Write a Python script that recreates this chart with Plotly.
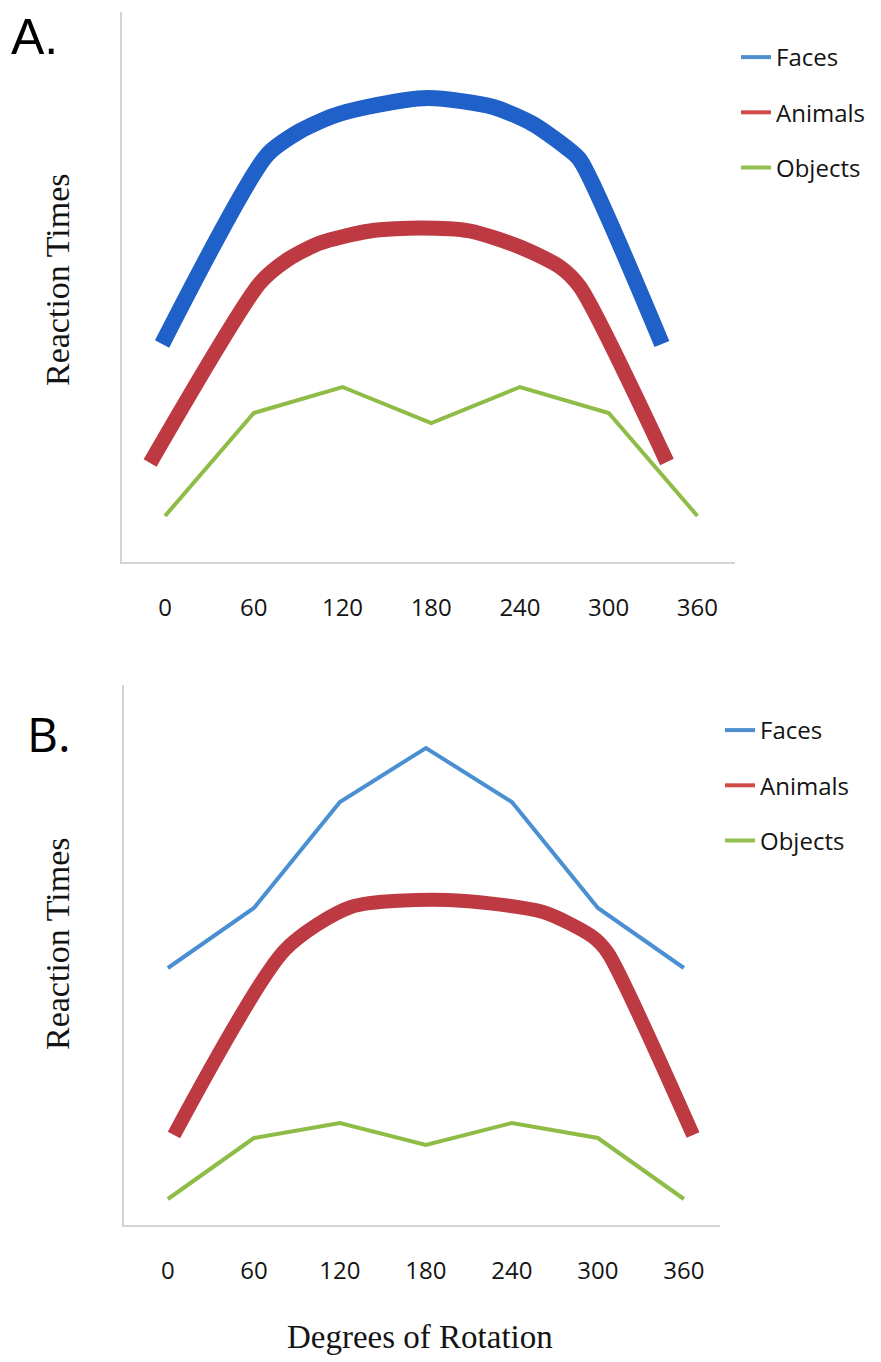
import plotly.graph_objects as go

# The page places the figure 8px from the top-left corner, so the figure is
# sized to fill the rest of the 881x1362 window and reference pixel positions
# are mapped with that offset.
OFF = 8
W, H = 881 - OFF, 1362 - OFF

# ---------------- data (degrees of rotation, reaction time in arbitrary units) ----------------
tick_vals = [0, 60, 120, 180, 240, 300, 360]
tick_text = ["0", "60", "120", "180", "240", "300", "360"]
series_names = ["Faces", "Animals", "Objects"]

# Panel A
a_faces_deg = [-2.0, 69.0, 91.3, 113.6, 136.6, 178.0, 222.0, 248.8, 271.8, 280.6, 336.0]
a_faces_rt = [218, 407, 431, 446, 455, 464, 455, 438, 414, 402, 218]
a_animals_deg = [-10.1, 64.2, 82.5, 104.8, 138.6, 172.4, 206.2, 240.0, 267.1, 280.6, 339.4]
a_animals_rt = [99, 279, 302, 319, 331, 334, 331, 315, 295, 275, 100]
a_objects_deg = [0, 60, 120, 180, 240, 300, 360]
a_objects_rt = [46, 149, 175, 139, 175, 149, 46]

# Panel B
b_faces_deg = [0, 60, 120, 180, 240, 300, 360]
b_faces_rt = [257, 317, 423, 477, 423, 317, 257]
b_animals_deg = [4.2, 81.6, 127.7, 194.7, 261.7, 296.6, 307.0, 366.4]
b_animals_rt = [90, 275, 318, 325, 313, 288, 272, 90]
b_objects_deg = [0, 60, 120, 180, 240, 300, 360]
b_objects_rt = [26, 87, 102, 80, 102, 87, 26]

# ---------------- styles ----------------
BLUE_A = "#1f60c9"
BLUE_B = "#4a8fd2"
RED = "#bd3a42"
GREEN = "#8fbc47"
LEG_COLORS = ["#4f8fd0", "#d04a48", "#95c052"]
AXIS_COL = "#d4d4d4"
TXT = "#141414"


def px(x):
    return (x - OFF) / W


def py(y):
    return 1 - (y - OFF) / H


fig = go.Figure()

# panel A traces
fig.add_trace(go.Scatter(x=a_faces_deg, y=a_faces_rt, mode="lines", line=dict(color=BLUE_A, width=16, shape="spline", smoothing=0.7),
                         xaxis="x", yaxis="y", showlegend=False, hoverinfo="skip"))
fig.add_trace(go.Scatter(x=a_animals_deg, y=a_animals_rt, mode="lines", line=dict(color=RED, width=15, shape="spline", smoothing=0.7),
                         xaxis="x", yaxis="y", showlegend=False, hoverinfo="skip"))
fig.add_trace(go.Scatter(x=a_objects_deg, y=a_objects_rt, mode="lines", line=dict(color=GREEN, width=4),
                         xaxis="x", yaxis="y", showlegend=False, hoverinfo="skip"))

# panel B traces
fig.add_trace(go.Scatter(x=b_faces_deg, y=b_faces_rt, mode="lines", line=dict(color=BLUE_B, width=4),
                         xaxis="x2", yaxis="y2", showlegend=False, hoverinfo="skip"))
fig.add_trace(go.Scatter(x=b_animals_deg, y=b_animals_rt, mode="lines", line=dict(color=RED, width=14, shape="spline", smoothing=0.7),
                         xaxis="x2", yaxis="y2", showlegend=False, hoverinfo="skip"))
fig.add_trace(go.Scatter(x=b_objects_deg, y=b_objects_rt, mode="lines", line=dict(color=GREEN, width=4),
                         xaxis="x2", yaxis="y2", showlegend=False, hoverinfo="skip"))

# legend entries (thin sample lines as in the original legends)
for leg, xa, ya in (("legend", "x", "y"), ("legend2", "x2", "y2")):
    for i, name in enumerate(series_names):
        fig.add_trace(go.Scatter(x=[None], y=[None], mode="lines", name=name,
                                 line=dict(color=LEG_COLORS[i], width=4),
                                 xaxis=xa, yaxis=ya, legend=leg, legendgroup=f"{leg}{i}",
                                 showlegend=True))

common_x = dict(tickmode="array", tickvals=tick_vals, ticktext=tick_text, showgrid=False, zeroline=False,
                showline=True, linecolor=AXIS_COL, linewidth=2, ticks="outside", ticklen=23,
                tickcolor="rgba(0,0,0,0)", tickfont=dict(family="Open Sans", size=24, color=TXT), fixedrange=True)
common_y = dict(showgrid=False, zeroline=False, showline=True, linecolor=AXIS_COL, linewidth=2,
                showticklabels=False, ticks="", fixedrange=True)

legend_common = dict(font=dict(family="Open Sans", size=24, color=TXT), bgcolor="rgba(0,0,0,0)",
                     xanchor="left", yanchor="top", tracegroupgap=21, itemwidth=30)

fig.update_layout(
    width=W, height=H,
    margin=dict(l=0, r=0, t=0, b=0),
    paper_bgcolor="white", plot_bgcolor="white",
    xaxis=dict(domain=[px(121.7), px(735)], range=[-29.3, 385.4], anchor="y", **common_x),
    yaxis=dict(domain=[py(562), py(12)], range=[0, 550], anchor="x", **common_y),
    xaxis2=dict(domain=[px(123.5), px(720)], range=[-31, 385.2], anchor="y2", **common_x),
    yaxis2=dict(domain=[py(1225), py(685)], range=[0, 540], anchor="x2", **common_y),
    legend=dict(x=px(736), y=py(35), **legend_common),
    legend2=dict(x=px(720), y=py(708), **legend_common),
    annotations=[
        dict(text="A.", x=px(34), y=py(37), xref="paper", yref="paper", showarrow=False,
             font=dict(family="Liberation Sans", size=50, color="black"), xanchor="center", yanchor="middle"),
        dict(text="B.", x=px(49), y=py(733), xref="paper", yref="paper", showarrow=False,
             font=dict(family="Open Sans", size=48, color="black"), xanchor="center", yanchor="middle"),
        dict(text="Reaction Times", x=px(57), y=py(280), xref="paper", yref="paper", showarrow=False, textangle=-90,
             font=dict(family="Liberation Serif", size=34, color=TXT), xanchor="center", yanchor="middle"),
        dict(text="Reaction Times", x=px(58), y=py(944), xref="paper", yref="paper", showarrow=False, textangle=-90,
             font=dict(family="Liberation Serif", size=34, color=TXT), xanchor="center", yanchor="middle"),
        dict(text="Degrees of Rotation", x=px(420), y=py(1337), xref="paper", yref="paper", showarrow=False,
             font=dict(family="Liberation Serif", size=33, color=TXT), xanchor="center", yanchor="middle"),
    ],
)

fig.write_html("out.html")
